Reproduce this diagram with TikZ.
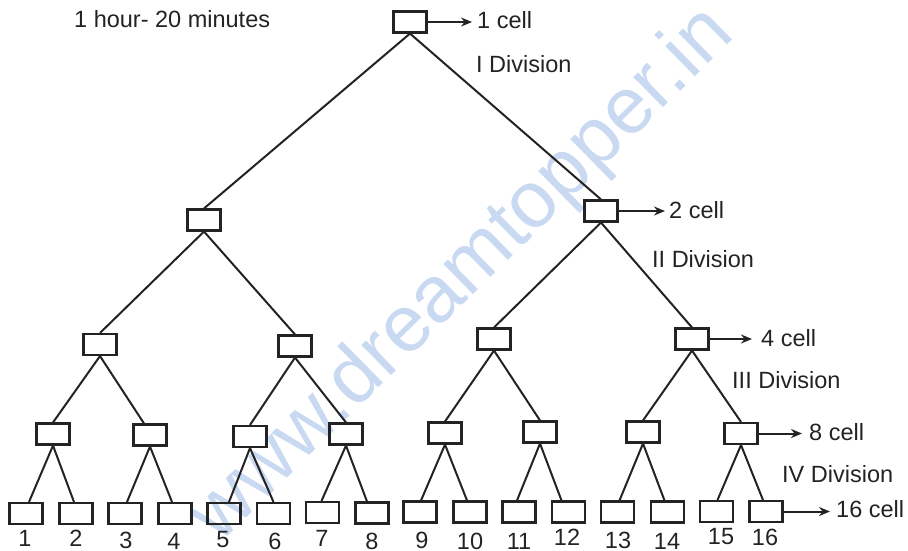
\documentclass[tikz,border=0pt]{standalone}
\usepackage{fontspec}
\setmainfont{Liberation Sans}
\usetikzlibrary{arrows.meta}
\definecolor{wm}{RGB}{200,217,241}
\definecolor{ink}{RGB}{35,35,35}
\begin{document}
\begin{tikzpicture}[x=1pt,y=-1pt,
  cell/.style={draw=ink, line width=2.1pt, minimum width=33pt, minimum height=21pt, inner sep=0pt},
  edge/.style={draw=ink, line width=2pt},
  arr/.style={draw=ink, line width=2pt, -{Stealth[length=11pt,width=9pt]}},
  lbl/.style={text=ink, font=\fontsize{23.5}{27}\selectfont, inner sep=0pt},
  num/.style={text=ink, font=\fontsize{23.5}{27}\selectfont, inner sep=0pt}]
\useasboundingbox (0,0) rectangle (908,550);
% watermark
\node[text=wm, rotate=44.5, font=\fontsize{80}{86}\selectfont, inner sep=0pt] (wmk) at (463,276) {www.dreamtopper.in};
% level 0
\node[cell] (r) at (410,22) {};
% level 1
\node[cell] (a1) at (204,220) {};
\node[cell] (a2) at (601,211) {};
% level 2
\node[cell] (b1) at (100,344.5) {};
\node[cell] (b2) at (295,346) {};
\node[cell] (b3) at (494,339) {};
\node[cell] (b4) at (692,339) {};
% level 3
\node[cell] (c1) at (53,434) {};
\node[cell] (c2) at (150,435) {};
\node[cell] (c3) at (250,436.5) {};
\node[cell] (c4) at (346,434) {};
\node[cell] (c5) at (445,433) {};
\node[cell] (c6) at (540,432) {};
\node[cell] (c7) at (643,432) {};
\node[cell] (c8) at (741,433.5) {};
% level 4
\node[cell] (d1) at (26,513.5) {};
\node[cell] (d2) at (76,513.5) {};
\node[cell] (d3) at (125,513.5) {};
\node[cell] (d4) at (175,513.5) {};
\node[cell] (d5) at (224,513.5) {};
\node[cell] (d6) at (273.5,513.5) {};
\node[cell] (d7) at (322.5,512.5) {};
\node[cell] (d8) at (372,513) {};
\node[cell] (d9) at (420,512) {};
\node[cell] (d10) at (470,512) {};
\node[cell] (d11) at (519,512) {};
\node[cell] (d12) at (568.5,512) {};
\node[cell] (d13) at (617.5,512) {};
\node[cell] (d14) at (667.5,512) {};
\node[cell] (d15) at (716.5,511.5) {};
\node[cell] (d16) at (766,511.5) {};
% edges
\draw[edge] (r.south) -- (a1.north);
\draw[edge] (r.south) -- (a2.north);
\draw[edge] (a1.south) -- (b1.north);
\draw[edge] (a1.south) -- (b2.north);
\draw[edge] (a2.south) -- (b3.north);
\draw[edge] (a2.south) -- (b4.north);
\draw[edge] (b1.south) -- (c1.north);
\draw[edge] (b1.south) -- ([xshift=-6pt]c2.north);
\draw[edge] (b2.south) -- (c3.north);
\draw[edge] (b2.south) -- (c4.north);
\draw[edge] (b3.south) -- (c5.north);
\draw[edge] (b3.south) -- (c6.north);
\draw[edge] (b4.south) -- (c7.north);
\draw[edge] (b4.south) -- (c8.north);
\draw[edge] (c1.south) -- ([xshift=3pt]d1.north);
\draw[edge] (c1.south) -- ([xshift=-2pt]d2.north);
\draw[edge] (c2.south) -- ([xshift=2pt]d3.north);
\draw[edge] (c2.south) -- ([xshift=-3pt]d4.north);
\draw[edge] (c3.south) -- ([xshift=5pt]d5.north);
\draw[edge] (c3.south) -- (d6.north);
\draw[edge] (c4.south) -- ([xshift=-1pt]d7.north);
\draw[edge] (c4.south) -- ([xshift=-5pt]d8.north);
\draw[edge] (c5.south) -- ([xshift=1pt]d9.north);
\draw[edge] (c5.south) -- ([xshift=-3pt]d10.north);
\draw[edge] (c6.south) -- ([xshift=-2pt]d11.north);
\draw[edge] (c6.south) -- ([xshift=-7pt]d12.north);
\draw[edge] (c7.south) -- ([xshift=2pt]d13.north);
\draw[edge] (c7.south) -- ([xshift=-3pt]d14.north);
\draw[edge] (c8.south) -- ([xshift=1pt]d15.north);
\draw[edge] (c8.south) -- ([xshift=-3pt]d16.north);
% arrows and labels
\coordinate (e1) at (472,22);
\coordinate (e2) at (665,211);
\coordinate (e3) at (752,339);
\coordinate (e4) at (802,433.5);
\coordinate (e5) at (830,511.5);
\draw[arr] (r.east) -- (e1);
\draw[arr] (a2.east) -- (e2);
\draw[arr] (b4.east) -- (e3);
\draw[arr] (c8.east) -- (e4);
\draw[arr] (d16.east) -- (e5);
\node[lbl, anchor=west] (t1) at (477,20) {1 cell};
\node[lbl, anchor=west] (t2) at (669,210) {2 cell};
\node[lbl, anchor=west] (t3) at (761,338) {4 cell};
\node[lbl, anchor=west] (t4) at (809,432) {8 cell};
\node[lbl, anchor=west] (t5) at (836,509) {16 cell};
\node[lbl, anchor=west] (v1) at (476,64) {I Division};
\node[lbl, anchor=west] (v2) at (652,259) {II Division};
\node[lbl, anchor=west] (v3) at (732,380) {III Division};
\node[lbl, anchor=west] (v4) at (782,474) {IV Division};
\node[lbl, anchor=west] (hr) at (74,19) {1 hour- 20 minutes};
% leaf numbers
\node[num] (n1) at (25,538) {1};
\node[num] (n2) at (76,538) {2};
\node[num] (n3) at (126,540) {3};
\node[num] (n4) at (174,541.5) {4};
\node[num] (n5) at (223,540) {5};
\node[num] (n6) at (275,541.5) {6};
\node[num] (n7) at (322,538) {7};
\node[num] (n8) at (372,541.5) {8};
\node[num] (n9) at (422,540) {9};
\node[num] (n10) at (470,541.5) {10};
\node[num] (n11) at (519,541.5) {11};
\node[num] (n12) at (567,537) {12};
\node[num] (n13) at (618,540) {13};
\node[num] (n14) at (667,541) {14};
\node[num] (n15) at (721,537) {15};
\node[num] (n16) at (765,537) {16};
\end{tikzpicture}
\end{document}
